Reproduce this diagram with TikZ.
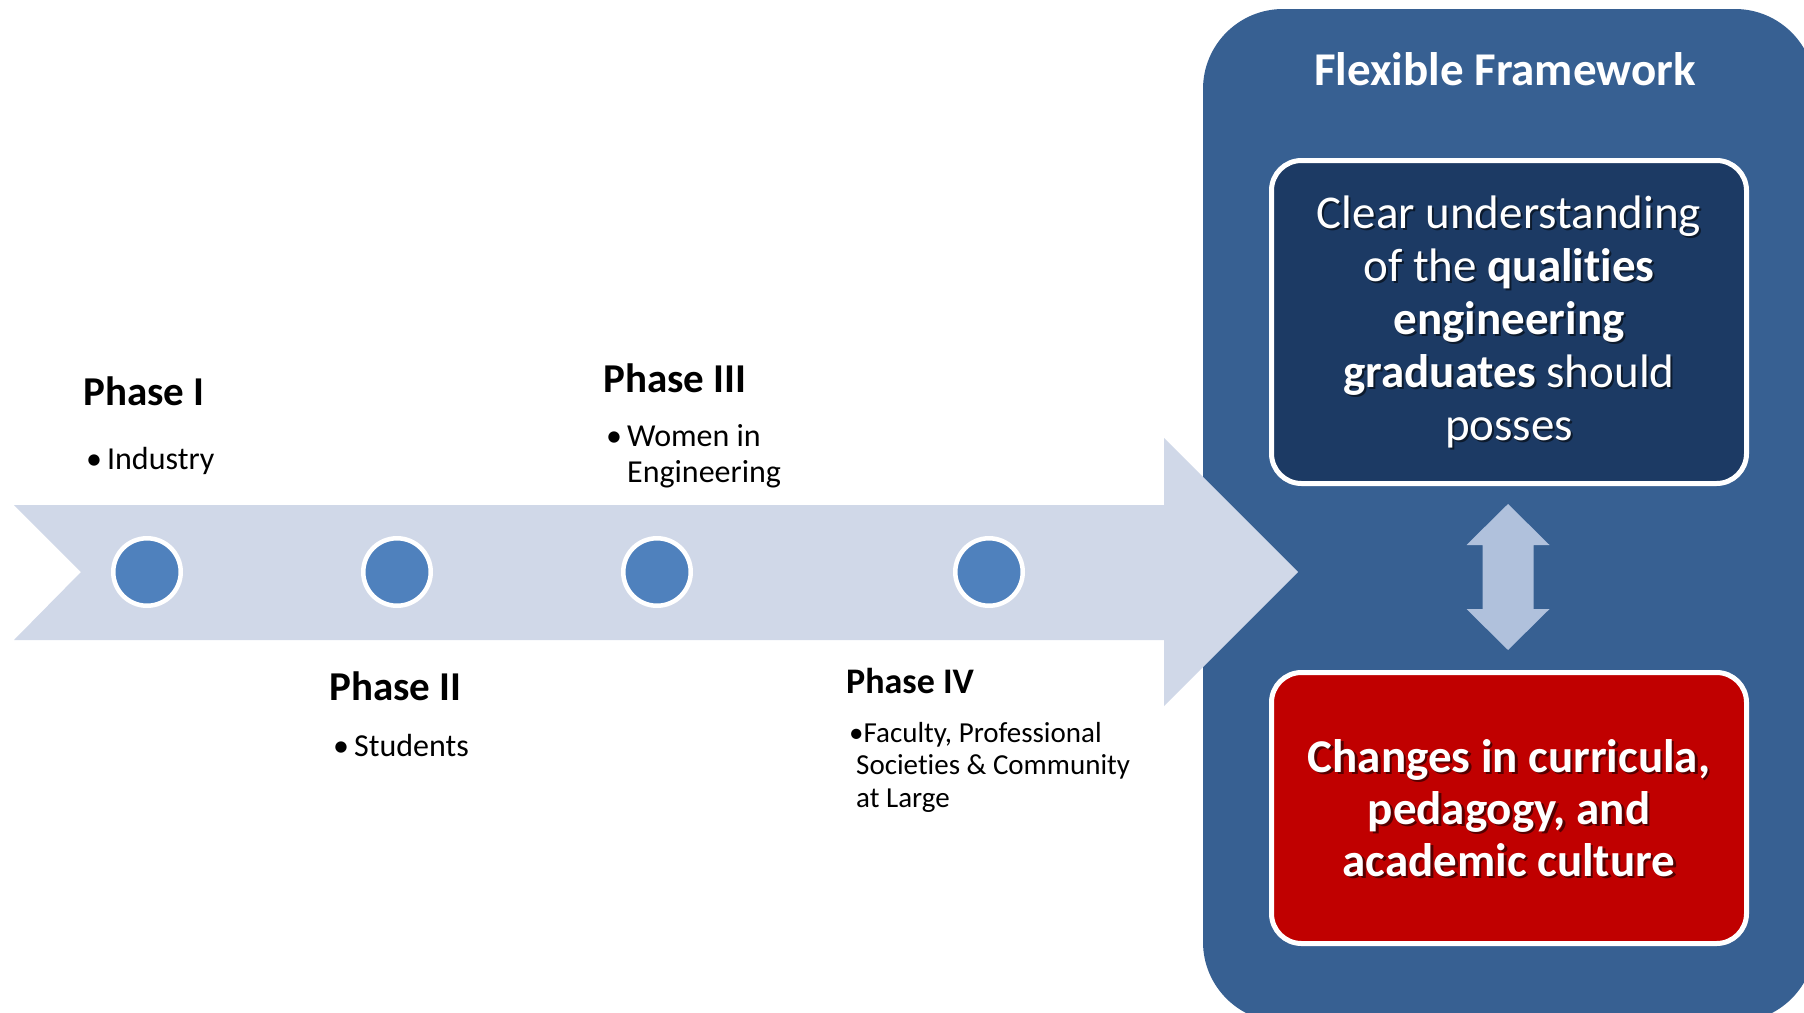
\documentclass[tikz,border=0pt]{standalone}
\usepackage{fontspec}
\setmainfont{Carlito}[Ligatures=NoCommon]

\definecolor{panelblue}{HTML}{376092}
\definecolor{navybox}{HTML}{1C3A64}
\definecolor{redbox}{HTML}{C00000}
\definecolor{bandblue}{HTML}{D0D8E8}
\definecolor{linkblue}{HTML}{B0C1DC}
\definecolor{dotblue}{HTML}{4F81BD}

\begin{document}
\begin{tikzpicture}[x=1pt,y=-1pt,
  phase/.style={anchor=base west, inner sep=0pt, font=\bfseries\fontsize{41}{49}\selectfont},
  item/.style={anchor=base west, inner sep=0pt, align=left, font=\fontsize{32}{36}\selectfont},
  dot/.style={circle, fill=dotblue, draw=white, line width=4.5pt, minimum size=67.5pt, inner sep=0pt},
  card/.style={rectangle, rounded corners=30pt, draw=white, line width=5pt,
               minimum width=475pt, inner sep=0pt},
  cardtext/.style={align=center, inner sep=0pt, font=\fontsize{47}{53}\selectfont},
  shade/.style={text=black, text opacity=0.55},
]
\useasboundingbox (0,0) rectangle (1804,1012);
\clip (0,0) rectangle (1804,1012);
\fill[white] (0,0) rectangle (1804,1012);

% framework panel on the right
\node[rectangle, rounded corners=80pt, fill=panelblue, minimum width=612pt,
      minimum height=1013pt, inner sep=0pt] (panel) at (1509,515.5) {};
\node[text=white, inner sep=0pt, font=\bfseries\fontsize{47}{53}\selectfont]
      (title) at (1505,69) {Flexible Framework};

% timeline band with chevron tail and arrow head
\coordinate (tail) at (14,505);
\fill[bandblue] (tail) -- (1164,505) -- (1164,438) -- (1298,572) -- (1164,706)
  -- (1164,640) -- (14,640) -- (81,572) -- cycle;

% phase markers
\node[dot] (p1) at (147,572) {};
\node[dot] (p2) at (397,572) {};
\node[dot] (p3) at (657,572) {};
\node[dot] (p4) at (989,572) {};

% phase labels
\node[phase] (ph1) at (83,405) {Phase I};
\node[item]  (it1) at (86,469) {\begin{tabular}[t]{@{}l@{\hspace{5pt}}l@{}}•&Industry\end{tabular}};
\node[phase] (ph3) at (603,392) {Phase III};
\node[item]  (it3) at (606,446) {\begin{tabular}[t]{@{}l@{\hspace{5pt}}l@{}}•&Women in\\&Engineering\end{tabular}};
\node[phase] (ph2) at (329,700) {Phase II};
\node[item]  (it2) at (333,756) {\begin{tabular}[t]{@{}l@{\hspace{5pt}}l@{}}•&Students\end{tabular}};
\node[phase, font=\bfseries\fontsize{36}{43}\selectfont] (ph4) at (846,693) {Phase IV};
\node[item, font=\fontsize{29}{32.5}\selectfont] (it4) at (849,742)
  {\begin{tabular}[t]{@{}l@{}}•Faculty, Professional\\\hspace*{7pt}Societies \& Community\\\hspace*{7pt}at Large\end{tabular}};

% upper card
\node[card, fill=navybox, minimum height=323pt] (goal) at (1509,322) {};
\node[cardtext, shade] at (1511,323.5) {Clear understanding\\of the \textbf{qualities}\\\textbf{engineering}\\\textbf{graduates} should\\posses};
\node[cardtext, text=white] (goaltext) at (goal) {Clear understanding\\of the \textbf{qualities}\\\textbf{engineering}\\\textbf{graduates} should\\posses};

% lower card
\node[card, fill=redbox, minimum height=271pt] (change) at (1509,808) {};
\node[cardtext, shade, font=\bfseries\fontsize{47}{52}\selectfont] at (1511.5,810.5)
  {Changes in curricula,\\pedagogy, and\\academic culture};
\node[cardtext, text=white, font=\bfseries\fontsize{47}{52}\selectfont] (changetext) at (change)
  {Changes in curricula,\\pedagogy, and\\academic culture};

% two-way link between the cards
\fill[linkblue] (1508,504) -- (1549.5,545) -- (1533.5,545) -- (1533.5,609)
  -- (1549.5,609) -- (1508,650) -- (1466.5,609) -- (1482.5,609)
  -- (1482.5,545) -- (1466.5,545) -- cycle;
\end{tikzpicture}
\end{document}
